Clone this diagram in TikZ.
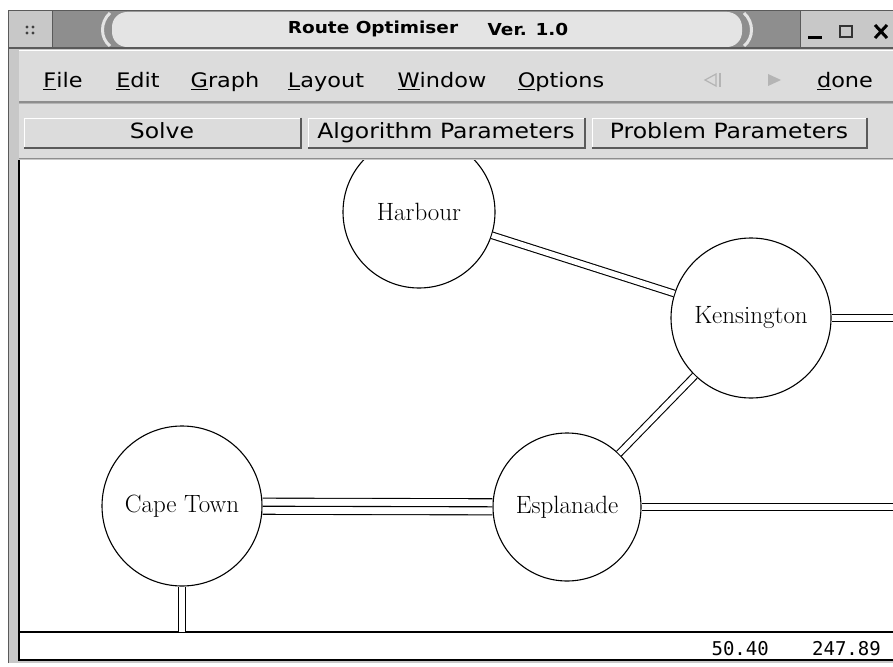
\documentclass[tikz,border=0pt]{standalone}
\usepackage{fontspec}
\setmonofont{DejaVu Sans Mono}
\newfontfamily\uifont[FakeStretch=1.12]{DejaVu Sans}
\definecolor{framegray}{HTML}{C8C8C8}
\definecolor{bargray}{HTML}{DCDCDC}
\definecolor{darkbar}{HTML}{8E8E8E}
\definecolor{titlegray}{HTML}{E4E4E4}
\definecolor{shadegray}{HTML}{5A5A5A}
\definecolor{icongray}{HTML}{B4B4B4}
\tikzset{
  town/.style={circle, draw=black, line width=1.1pt, fill=white, inner sep=0pt,
    minimum size=#1, font=\fontsize{25}{28}\selectfont},
  road/.style={draw=black, line width=1.1pt, double=white, double distance=5.5pt},
  mainroad/.style={draw=black, line width=1.1pt, double=white, double distance=15pt},
  menuitem/.style={font=\uifont\fontsize{20}{22}\selectfont, inner sep=0pt, anchor=base},
  btn/.style={draw=white, fill=bargray, line width=1pt, minimum height=29pt, inner sep=0pt,
    text height=15pt, text depth=4pt, font=\uifont\fontsize{21}{24}\selectfont},
  btnshade/.style={draw=shadegray, line width=2pt},
}
\begin{document}
\begin{tikzpicture}[x=1pt, y=-1pt]
  \useasboundingbox (0,0) rectangle (893,666);
  % window frame
  \fill[framegray] (8,10) rectangle (893,663);
  \draw[shadegray, line width=1pt] (8.5,663) -- (8.5,10.5) -- (893,10.5);
  % canvas and status bar
  \fill[white] (19,160) rectangle (893,660);
  \draw[black, line width=1.2pt] (19,160) -- (19,660) -- (893,660);
  \draw[black, line width=1.2pt] (19,632) -- (893,632);
  % towns and roads
  \begin{scope}
    \clip (19.6,160) rectangle (893,631.4);
    \node[town=152pt] (harbour) at (419,212) {Harbour};
    \node[town=160pt] (kensington) at (751,318) {Kensington};
    \node[town=148pt] (esplanade) at (567,507) {Esplanade};
    \node[town=160pt] (capetown) at (182,506) {Cape Town};
    \coordinate (kenEast) at (900,318);
    \coordinate (espEast) at (900,507);
    \coordinate (capeSouth) at (182,640);
    \draw[road] (harbour) -- (kensington);
    \draw[road] (kensington) -- (esplanade);
    \draw[road] (kensington) -- (kenEast);
    \draw[road] (esplanade) -- (espEast);
    \draw[road] (capetown) -- (capeSouth);
    \draw[mainroad] (capetown) -- (esplanade);
    \draw[black, line width=1.1pt] (capetown) -- (esplanade);
  \end{scope}
  % toolbar
  \fill[bargray] (19,104) rectangle (893,158);
  \draw[icongray, line width=1pt] (19,104) -- (893,104);
  \draw[darkbar, line width=1.5pt] (19,158.5) -- (893,158.5);
  \node[btn, minimum width=276pt] (solve) at (162,132.5) {Solve};
  \node[btn, minimum width=276pt] (algo) at (446,132.5) {Algorithm Parameters};
  \node[btn, minimum width=274pt] (problem) at (729,132.5) {Problem Parameters};
  \foreach \b in {solve, algo, problem}
    \draw[btnshade] (\b.north east) -- (\b.south east) -- (\b.south west);
  % menu bar
  \fill[bargray] (19,50) rectangle (893,102);
  \draw[white, line width=1pt] (19,51) -- (893,51);
  \draw[darkbar, line width=1.5pt] (19,102) -- (893,102);
  \node[menuitem] (mfile) at (63,88) {\underline{F}ile};
  \node[menuitem] (medit) at (138,88) {\underline{E}dit};
  \node[menuitem] (mgraph) at (225,88) {\underline{G}raph};
  \node[menuitem] (mlayout) at (326,88) {\underline{L}ayout};
  \node[menuitem] (mwindow) at (442,88) {\underline{W}indow};
  \node[menuitem] (moptions) at (561,88) {\underline{O}ptions};
  \node[menuitem] (mdone) at (845,88) {\underline{d}one};
  % back and forward arrows
  \draw[icongray, line width=1.2pt] (716,74) -- (705,80) -- (716,86) -- cycle;
  \draw[icongray, line width=1.5pt] (720,73) -- (720,87);
  \fill[icongray] (768,74) -- (781,80) -- (768,86) -- cycle;
  % title bar
  \fill[darkbar] (52,11) rectangle (800,48);
  \fill[framegray] (9,11) rectangle (52,48);
  \draw[shadegray, line width=1pt] (52,11) -- (52,48);
  \foreach \dx/\dy in {27/27, 33/27, 27/33, 33/33}
    \fill[black!75] (\dx,\dy) circle (1.6pt);
  \fill[titlegray, rounded corners=15pt] (112,12) rectangle (742,47);
  \draw[titlegray, line width=3pt] (110,13) .. controls (100,22) and (100,38) .. (110,46);
  \draw[titlegray, line width=3pt] (744,13) .. controls (754,22) and (754,38) .. (744,46);
  \fill[framegray] (800,11) rectangle (893,48);
  \draw[shadegray, line width=1pt] (800,11) -- (800,48);
  \draw[black, line width=3pt] (808,38) -- (822,38);
  \draw[black!80, line width=2pt] (840,26) rectangle (852,37);
  \draw[black, line width=3pt] (875,25) -- (887,38) (875,38) -- (887,25);
  \draw[shadegray, line width=1.5pt] (9,48) -- (893,48);
  \node[font=\uifont\bfseries\fontsize{16.5}{18}\selectfont, inner sep=0pt] (apptitle) at (373,29) {Route Optimiser};
  \node[font=\uifont\bfseries\fontsize{16.5}{18}\selectfont, inner sep=0pt] (version) at (528,29) {Ver. 1.0};
  % status bar
  \node[font=\ttfamily\fontsize{19}{21}\selectfont, inner sep=0pt, anchor=base east] (xpos) at (769,655) {50.40};
  \node[font=\ttfamily\fontsize{19}{21}\selectfont, inner sep=0pt, anchor=base east] (ypos) at (881,655) {247.89};
\end{tikzpicture}
\end{document}
